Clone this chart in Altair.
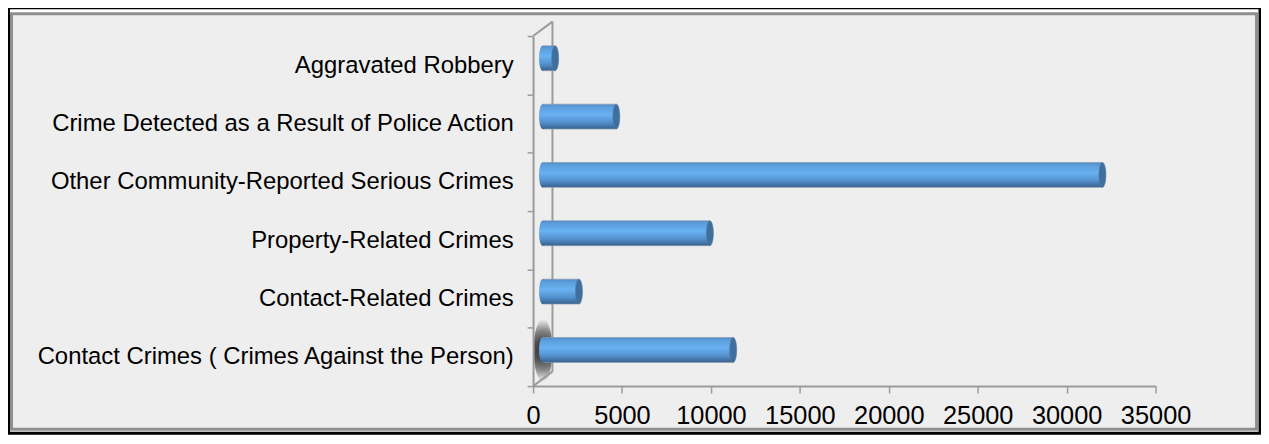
import altair as alt
import pandas as pd

# ---- data ----
categories = [
    "Aggravated Robbery",
    "Crime Detected as a Result of Police Action ",
    "Other Community-Reported Serious Crimes",
    "Property-Related Crimes",
    "Contact-Related Crimes",
    "Contact Crimes ( Crimes Against the  Person)",
]
values = [710, 4150, 31480, 9410, 2050, 10720]
x_ticks = [0, 5000, 10000, 15000, 20000, 25000, 30000, 35000]

df = pd.DataFrame({"cat": categories, "v": values, "zero": [0] * len(values)})
one = pd.DataFrame({"a": [0]})

# ---- layout (pixels) ----
W, H = 1260, 428
PW, PH = 626, 352
OX, OY = 528, 27
DX, DY = 19.5, -14.5          # depth of the 3-D walls
BX, BY = 9.5, -7              # bars sit in the middle of the depth
WALL = "#9b9b9b"
FONT = "Liberation Sans"

xscale = alt.Scale(domain=[0, 35000], nice=False, zero=True)
yscale = alt.Scale(domain=categories, paddingInner=0, paddingOuter=0)

body_grad = alt.Gradient(
    gradient="linear", x1=0, x2=0, y1=0, y2=1,
    stops=[
        alt.GradientStop(color="#4f8ac6", offset=0),
        alt.GradientStop(color="#5b9ddb", offset=0.1),
        alt.GradientStop(color="#69b1f1", offset=0.42),
        alt.GradientStop(color="#5592cf", offset=0.72),
        alt.GradientStop(color="#4273a6", offset=0.9),
        alt.GradientStop(color="#365f8b", offset=1),
    ],
)
shadow_grad = alt.Gradient(
    gradient="radial", x1=0.5, y1=0.5, r1=0, x2=0.5, y2=0.5, r2=0.5,
    stops=[
        alt.GradientStop(color="#262626", offset=0),
        alt.GradientStop(color="#3a3a3a", offset=0.3),
        alt.GradientStop(color="#7a7a7a", offset=0.62),
        alt.GradientStop(color="#c4c4c4", offset=0.85),
        alt.GradientStop(color="#eeeeee", offset=1),
    ],
)
ELLIPSE = "M0,-1A0.28,1,0,1,1,0,1A0.28,1,0,1,1,0,-1Z"
BLOB = "M0,-1A0.3,1,0,1,1,0,1A0.3,1,0,1,1,0,-1Z"

black_frame = alt.Chart(one).mark_rect(filled=False, stroke="black", strokeWidth=3).encode(
    x=alt.value(0.5 - OX), x2=alt.value(1259 - OX),
    y=alt.value(-1.5 - OY), y2=alt.value(426.5 - OY),
)
gray_frame = alt.Chart(one).mark_rect(fill="#eeeeee", stroke="#8f8f8f", strokeWidth=3).encode(
    x=alt.value(3.5 - OX), x2=alt.value(1255.5 - OX),
    y=alt.value(4.5 - OY), y2=alt.value(422.5 - OY),
)
shadow = alt.Chart(one).mark_point(
    shape=BLOB, size=4000, filled=True, fill=shadow_grad, opacity=0.9, strokeWidth=0,
).encode(x=alt.value(10), y=alt.value(PH - 36))
back_wall = alt.Chart(one).mark_rule(color=WALL, strokeWidth=2).encode(
    x=alt.value(DX), y=alt.value(DY), y2=alt.value(PH + DY),
)
top_diag = alt.Chart(one).mark_rule(color=WALL, strokeWidth=2).encode(
    x=alt.value(0), y=alt.value(0), x2=alt.value(DX), y2=alt.value(DY),
)
bot_diag = alt.Chart(one).mark_rule(color=WALL, strokeWidth=2).encode(
    x=alt.value(0), y=alt.value(PH), x2=alt.value(DX), y2=alt.value(PH + DY),
)

base = alt.Chart(df)
bars = base.mark_bar(
    size=25, fill=body_grad, stroke="#8a9bb0", strokeWidth=0.7,
    xOffset=BX, x2Offset=BX, yOffset=BY,
).encode(
    x=alt.X("zero:Q", scale=xscale,
            axis=alt.Axis(values=x_ticks, format="d", title=None, grid=False, zindex=1,
                          domainColor=WALL, domainWidth=2, tickColor=WALL,
                          tickWidth=1.5, tickSize=7, labelFontSize=25.5,
                          labelFont=FONT, labelColor="black", labelPadding=11,
                          labelFlush=False, labelOverlap=False)),
    x2="v:Q",
    y=alt.Y("cat:N", scale=yscale, sort=categories,
            axis=alt.Axis(title=None, grid=False, zindex=1, tickBand="extent",
                          domainColor=WALL, domainWidth=2, tickColor=WALL,
                          tickWidth=1.5, tickSize=6, labelFontSize=24,
                          labelFont=FONT, labelColor="black", labelPadding=14,
                          labelLimit=700)),
)
left_end = base.mark_point(
    shape=ELLIPSE, size=625, filled=True, fill=body_grad, opacity=1,
    strokeWidth=0, xOffset=BX, yOffset=BY,
).encode(x=alt.X("zero:Q", scale=xscale), y=alt.Y("cat:N", scale=yscale, sort=categories))
right_cap = base.mark_point(
    shape=ELLIPSE, size=625, filled=True, fill="#3f6f9f", opacity=1,
    stroke="#56799c", strokeWidth=0.6, xOffset=BX, yOffset=BY,
).encode(x=alt.X("v:Q", scale=xscale), y=alt.Y("cat:N", scale=yscale, sort=categories))

chart = alt.layer(
    black_frame, gray_frame, shadow, back_wall, top_diag, bot_diag,
    bars, left_end, right_cap,
).properties(
    width=PW, height=PH,
    autosize=alt.AutoSizeParams(type="none"),
    padding={"left": OX, "top": OY, "right": W - OX - PW, "bottom": H - OY - PH},
    background="white",
).configure_view(stroke=None, fill=None)

chart.save("out.html", embed_options={"renderer": "svg", "actions": False})
